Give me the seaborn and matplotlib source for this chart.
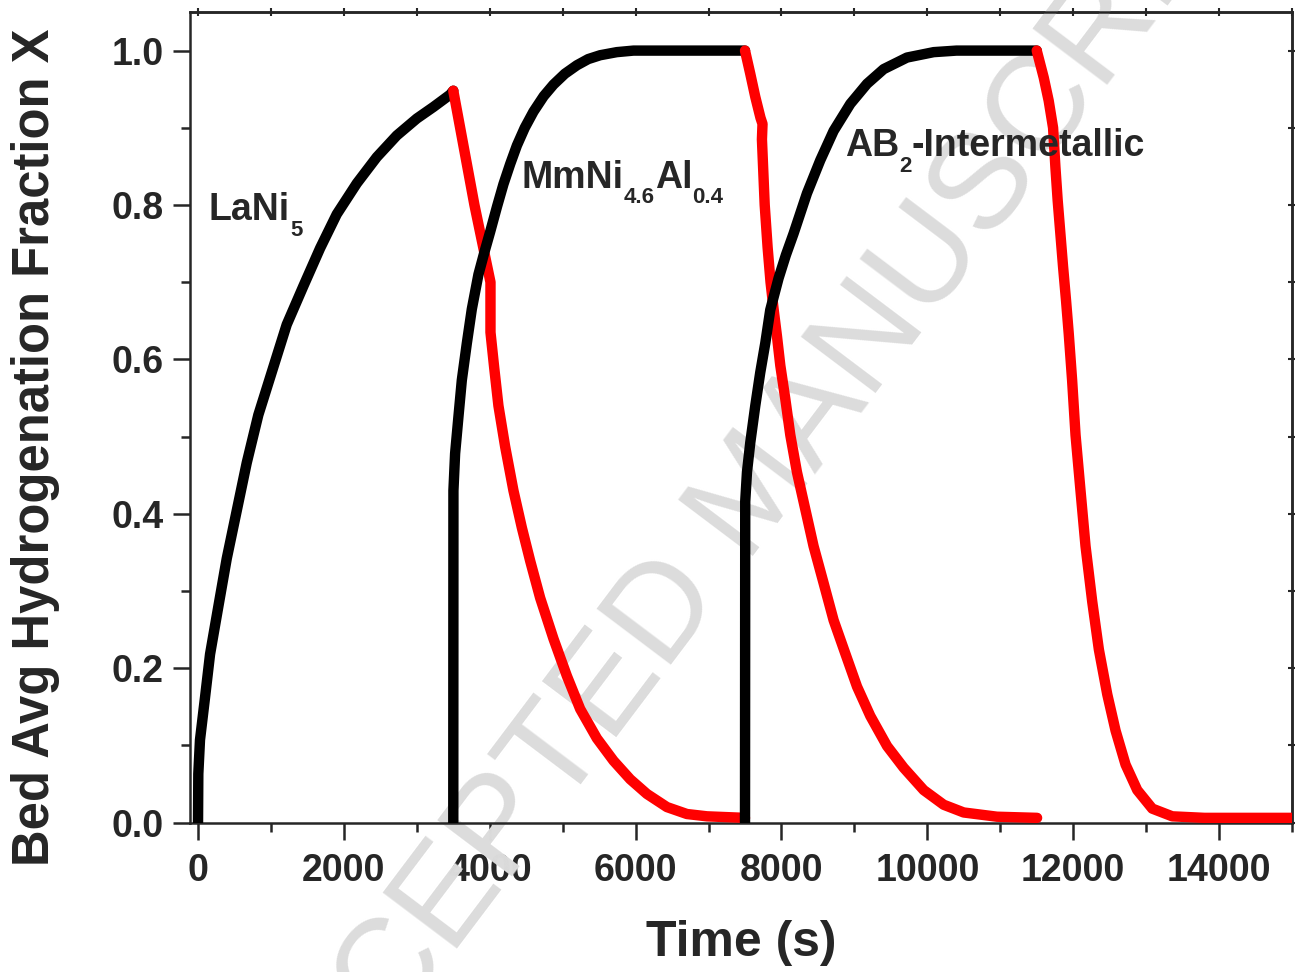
import matplotlib
matplotlib.use("Agg")
import matplotlib.pyplot as plt
from matplotlib.ticker import MultipleLocator, FixedLocator
import seaborn as sns
import pandas as pd

# ---------------- data ----------------
# LaNi5 absorption (black) / desorption (red)
t_abs1 = [0, 4, 27, 96, 165, 279, 394, 531, 668, 827, 1033, 1216, 1445, 1674, 1902, 2177,
          2451, 2725, 3000, 3228, 3457, 3500]
x_abs1 = [0.0, 0.063, 0.107, 0.162, 0.218, 0.280, 0.342, 0.404, 0.466, 0.528, 0.590, 0.645,
          0.695, 0.744, 0.788, 0.828, 0.862, 0.890, 0.912, 0.927, 0.943, 0.948]
t_des1 = [3500, 3790, 4010, 4010, 4060, 4119, 4211, 4325, 4440, 4554, 4691, 4874, 5057, 5240,
          5469, 5697, 5926, 6155, 6429, 6703, 6978, 7500]
x_des1 = [0.948, 0.800, 0.700, 0.635, 0.590, 0.540, 0.487, 0.430, 0.382, 0.339, 0.291, 0.238,
          0.190, 0.147, 0.109, 0.080, 0.056, 0.037, 0.020, 0.011, 0.008, 0.006]

# MmNi4.6Al0.4 absorption / desorption
t_abs2 = [3500, 3502, 3525, 3571, 3617, 3686, 3754, 3845, 3930, 4005, 4100, 4188, 4280, 4372,
          4480, 4600, 4740, 4874, 5030, 5195, 5350, 5514, 5742, 5971, 7500]
x_abs2 = [0.0, 0.430, 0.478, 0.526, 0.573, 0.621, 0.665, 0.710, 0.740, 0.765, 0.798, 0.827,
          0.853, 0.877, 0.900, 0.921, 0.941, 0.956, 0.970, 0.981, 0.989, 0.994, 0.998, 1.0, 1.0]
t_des2 = [7500, 7572, 7641, 7712, 7740, 7732, 7770, 7810, 7850, 7892, 7938, 7984, 8052, 8121,
          8212, 8326, 8440, 8578, 8715, 8875, 9036, 9218, 9448, 9675, 9950, 10224, 10498,
          10955, 11505]
x_des2 = [1.0, 0.970, 0.940, 0.913, 0.905, 0.885, 0.800, 0.745, 0.700, 0.665, 0.630, 0.592,
          0.549, 0.502, 0.454, 0.406, 0.358, 0.310, 0.262, 0.219, 0.176, 0.138, 0.099, 0.071,
          0.042, 0.023, 0.013, 0.0075, 0.006]

# AB2-Intermetallic absorption / desorption
t_abs3 = [7500, 7503, 7527, 7572, 7641, 7709, 7778, 7846, 7960, 8060, 8166, 8349, 8532, 8715,
          8944, 9173, 9401, 9721, 10087, 10400, 11500]
x_abs3 = [0.0, 0.416, 0.454, 0.492, 0.540, 0.583, 0.621, 0.664, 0.705, 0.735, 0.763, 0.815,
          0.858, 0.896, 0.931, 0.957, 0.976, 0.991, 0.998, 1.0, 1.0]
t_des3 = [11500, 11596, 11664, 11724, 11756, 11787, 11824, 11861, 11902, 11939, 11985, 12032,
          12100, 12169, 12261, 12352, 12467, 12581, 12718, 12878, 13084, 13358, 13800, 15000]
x_des3 = [1.0, 0.965, 0.935, 0.900, 0.849, 0.806, 0.763, 0.720, 0.676, 0.633, 0.573, 0.502,
          0.430, 0.358, 0.286, 0.224, 0.166, 0.119, 0.075, 0.042, 0.018, 0.008, 0.006, 0.006]

x_major_ticks = [0, 2000, 4000, 6000, 8000, 10000, 12000, 14000]
y_major_ticks = [0.0, 0.2, 0.4, 0.6, 0.8, 1.0]

# curve labels: list of (text, is_subscript) pieces and anchor (time, X)
label_parts = [
    [("LaNi", False), ("5", True)],
    [("MmNi", False), ("4.6", True), ("Al", False), ("0.4", True)],
    [("AB", False), ("2", True), ("-Intermetallic", False)],
]
label_pos = [(150, 0.780), (4440, 0.822), (8870, 0.863)]

# ---------------- style ----------------
sns.set_style("ticks")
plt.rcParams["font.family"] = ["Liberation Sans", "DejaVu Sans"]
plt.rcParams["font.weight"] = "bold"

fig = plt.figure(figsize=(12.95, 9.72), dpi=100)
ax = fig.add_axes([190 / 1295, 1 - 822.5 / 972, (1292 - 190) / 1295, (822.5 - 12) / 972])

curves = [
    (t_abs1, x_abs1, "black"), (t_des1, x_des1, "#ff0000"),
    (t_abs2, x_abs2, "black"), (t_des2, x_des2, "#ff0000"),
    (t_abs3, x_abs3, "black"), (t_des3, x_des3, "#ff0000"),
]
for i, (t, x, c) in enumerate(curves):
    df = pd.DataFrame({"t": t, "X": x})
    sns.lineplot(data=df, x="t", y="X", ax=ax, color=c, lw=7.5, sort=False,
                 estimator=None, solid_capstyle="round", solid_joinstyle="round",
                 zorder=3 + i)

ax.set_xlim(-110, 15000)
ax.set_ylim(0, 1.05)

# labels with manual subscripts
renderer = fig.canvas.get_renderer()
main_fs, sub_fs, sub_drop = 27, 16, 11
for parts, (px, py) in zip(label_parts, label_pos):
    off = 0.0
    for s, is_sub in parts:
        txt = ax.annotate(s, xy=(px, py), xycoords="data", xytext=(off, -sub_drop if is_sub else 0),
                          textcoords="offset points", fontsize=sub_fs if is_sub else main_fs,
                          fontweight="bold", ha="left", va="baseline", zorder=10)
        w = txt.get_window_extent(renderer).width
        off += w * 72.0 / fig.dpi

# watermark
ax.text(755 / 1295, 1 - 495 / 972, "ACCEPTED MANUSCRIPT", transform=fig.transFigure,
        rotation=53, fontsize=98, fontweight="normal", color="#dcdcdc", ha="center",
        va="center", rotation_mode="anchor", zorder=1, clip_on=False)

ax.xaxis.set_major_locator(FixedLocator(x_major_ticks))
ax.xaxis.set_minor_locator(MultipleLocator(1000))
ax.yaxis.set_major_locator(FixedLocator(y_major_ticks))
ax.yaxis.set_minor_locator(MultipleLocator(0.1))
ax.set_xticklabels([str(v) for v in x_major_ticks])
ax.set_yticklabels([f"{v:.1f}" for v in y_major_ticks])

for sp in ax.spines.values():
    sp.set_linewidth(1.8)
    sp.set_visible(True)
ax.tick_params(axis="both", which="major", direction="out", length=12, width=1.8,
               labelsize=27, pad=7)
ax.tick_params(axis="both", which="minor", direction="out", length=6.5, width=1.8)
ax.tick_params(axis="x", which="major", pad=10)
for lab in ax.get_xticklabels() + ax.get_yticklabels():
    lab.set_fontweight("bold")

# top / right short ticks
top = ax.secondary_xaxis("top")
top.xaxis.set_major_locator(MultipleLocator(1000))
top.tick_params(direction="inout", length=6, width=1.5, labeltop=False)
top.spines["top"].set_linewidth(1.8)
right = ax.secondary_yaxis("right")
right.yaxis.set_major_locator(MultipleLocator(0.1))
right.tick_params(direction="inout", length=6, width=1.5, labelright=False)
right.spines["right"].set_linewidth(1.8)

ax.set_xlabel("Time (s)", fontsize=36, fontweight="bold", va="top")
ax.xaxis.set_label_coords(0.5, -0.12)
ax.set_ylabel("Bed Avg Hydrogenation Fraction X", fontsize=36.5, fontweight="bold")
ax.yaxis.set_label_coords(-0.118, 0.463)

fig.savefig("out.png", dpi=100)
